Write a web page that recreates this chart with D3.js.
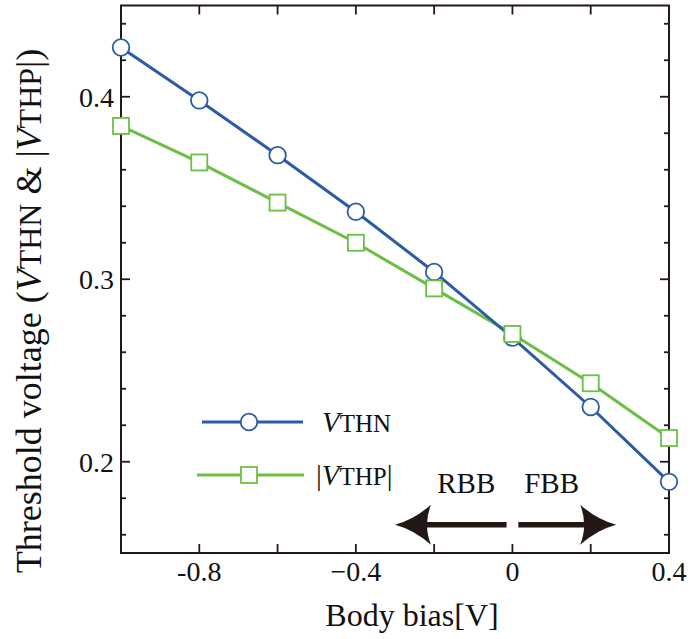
<!DOCTYPE html>
<html>
<head>
<meta charset="utf-8">
<script src="https://cdn.jsdelivr.net/npm/d3@7"></script>
<style>
  body { margin: 0; background: #fff; }
  svg { display: block; font-family: "Liberation Serif", "Times New Roman", serif; }
</style>
</head>
<body>
<div id="chart"></div>
<script>
// body bias [V]
const bias = [-1.0, -0.8, -0.6, -0.4, -0.2, 0.0, 0.2, 0.4];
// threshold voltages [V]
const vthn = [0.427, 0.398, 0.368, 0.337, 0.304, 0.268, 0.230, 0.189];
const vthp = [0.384, 0.364, 0.342, 0.320, 0.295, 0.270, 0.243, 0.213];

const xTickLabels = [[-0.8, '-0.8'], [-0.4, '\u22120.4'], [0, '0'], [0.4, '0.4']];
const yTickLabels = [[0.2, '0.2'], [0.3, '0.3'], [0.4, '0.4']];

// RBB / FBB annotation (x in volts, y in volts)
const arrowY = 0.1655;
const rbbArrow = [-0.015, -0.30];
const fbbArrow = [0.015, 0.265];
const arrowLabels = [['RBB', -0.118], ['FBB', 0.10]];
const arrowLabelY = 0.183;

const width = 692, height = 639;
const margin = {top: 5.5, right: 23, bottom: 86, left: 121};

const blue = '#2a5aa8';
const green = '#6cbf45';
const axisColor = '#231815';

const svg = d3.select('#chart').append('svg')
    .attr('width', width)
    .attr('height', height);

const x = d3.scaleLinear()
    .domain([-1.0, 0.4])
    .range([margin.left, width - margin.right]);

const y = d3.scaleLinear()
    .domain([0.15, 0.45])
    .range([height - margin.bottom, margin.top]);

// frame ticks
const xTicks = d3.range(-0.8, 0.41, 0.2).map(v => +v.toFixed(2)).filter(v => v < 0.39);
const yMinor = d3.range(0.16, 0.45, 0.02).map(v => +v.toFixed(2));

const g = svg.append('g');

// bottom / top ticks (inward)
xTicks.forEach(v => {
    g.append('line').attr('x1', x(v)).attr('x2', x(v))
        .attr('y1', y(0.15)).attr('y2', y(0.15) - 9)
        .attr('stroke', axisColor).attr('stroke-width', 1.8);
    g.append('line').attr('x1', x(v)).attr('x2', x(v))
        .attr('y1', y(0.45)).attr('y2', y(0.45) + 9)
        .attr('stroke', axisColor).attr('stroke-width', 1.8);
});

// left / right ticks
yMinor.forEach(v => {
    const major = Math.abs(v * 10 - Math.round(v * 10)) < 1e-6;
    const len = major ? 9 : 5;
    g.append('line').attr('x1', x(-1.0)).attr('x2', x(-1.0) + len)
        .attr('y1', y(v)).attr('y2', y(v))
        .attr('stroke', axisColor).attr('stroke-width', 1.8);
    g.append('line').attr('x1', x(0.4)).attr('x2', x(0.4) - len)
        .attr('y1', y(v)).attr('y2', y(v))
        .attr('stroke', axisColor).attr('stroke-width', 1.8);
});

// frame
g.append('rect')
    .attr('x', x(-1.0)).attr('y', y(0.45))
    .attr('width', x(0.4) - x(-1.0)).attr('height', y(0.15) - y(0.45))
    .attr('fill', 'none').attr('stroke', axisColor).attr('stroke-width', 2);

// tick labels
g.selectAll('.xlab').data(xTickLabels).join('text')
    .attr('class', 'xlab')
    .attr('x', d => x(d[0]))
    .attr('y', y(0.15) + 28)
    .attr('text-anchor', 'middle')
    .attr('font-size', 28)
    .attr('fill', '#111')
    .text(d => d[1]);

g.selectAll('.ylab').data(yTickLabels).join('text')
    .attr('class', 'ylab')
    .attr('x', x(-1.0) - 7)
    .attr('y', d => y(d[0]) + 10)
    .attr('text-anchor', 'end')
    .attr('font-size', 28)
    .attr('fill', '#111')
    .text(d => d[1]);

// axis titles
svg.append('text')
    .attr('x', 412).attr('y', 626)
    .attr('text-anchor', 'middle')
    .attr('font-size', 32)
    .attr('fill', '#111')
    .text('Body bias[V]');

const yTitle = svg.append('text')
    .attr('transform', 'translate(41,311) rotate(-90)')
    .attr('text-anchor', 'middle')
    .attr('font-size', 36)
    .attr('fill', '#111');
yTitle.append('tspan').text('Threshold voltage (');
yTitle.append('tspan').attr('font-style', 'italic').text('V');
yTitle.append('tspan').attr('font-size', 32).text('THN');
yTitle.append('tspan').text(' & |');
yTitle.append('tspan').attr('font-style', 'italic').text('V');
yTitle.append('tspan').attr('font-size', 32).text('THP');
yTitle.append('tspan').text('|)');

// series
const line = d3.line()
    .x(d => x(d[0]))
    .y(d => y(d[1]));

const nData = bias.map((b, i) => [b, vthn[i]]);
const pData = bias.map((b, i) => [b, vthp[i]]);

svg.append('path').datum(pData)
    .attr('d', line)
    .attr('fill', 'none').attr('stroke', green).attr('stroke-width', 3);

svg.append('path').datum(nData)
    .attr('d', line)
    .attr('fill', 'none').attr('stroke', blue).attr('stroke-width', 3);

svg.selectAll('.circ').data(nData).join('circle')
    .attr('class', 'circ')
    .attr('cx', d => x(d[0])).attr('cy', d => y(d[1]))
    .attr('r', 8.3)
    .attr('fill', '#fff').attr('stroke', blue).attr('stroke-width', 1.8);

svg.selectAll('.sq').data(pData).join('rect')
    .attr('class', 'sq')
    .attr('x', d => x(d[0]) - 8).attr('y', d => y(d[1]) - 8)
    .attr('width', 16).attr('height', 16)
    .attr('fill', '#fff').attr('stroke', green).attr('stroke-width', 1.8);

// legend
const leg = svg.append('g');
leg.append('line').attr('x1', 202).attr('x2', 303).attr('y1', 422).attr('y2', 422)
    .attr('stroke', blue).attr('stroke-width', 3);
leg.append('circle').attr('cx', 249).attr('cy', 422).attr('r', 8.3)
    .attr('fill', '#fff').attr('stroke', blue).attr('stroke-width', 1.8);
leg.append('line').attr('x1', 197).attr('x2', 304).attr('y1', 475).attr('y2', 475)
    .attr('stroke', green).attr('stroke-width', 3);
leg.append('rect').attr('x', 241).attr('y', 467).attr('width', 16).attr('height', 16)
    .attr('fill', '#fff').attr('stroke', green).attr('stroke-width', 1.8);

const l1 = leg.append('text').attr('x', 322).attr('y', 432).attr('font-size', 29).attr('fill', '#111');
l1.append('tspan').attr('font-style', 'italic').text('V');
l1.append('tspan').attr('font-size', 25).text('THN');
const l2 = leg.append('text').attr('x', 316).attr('y', 485).attr('font-size', 29).attr('fill', '#111');
l2.append('tspan').text('|');
l2.append('tspan').attr('font-style', 'italic').text('V');
l2.append('tspan').attr('font-size', 25).text('THP');
l2.append('tspan').text('|');

// RBB / FBB arrows
const arrowColor = '#231815';
function drawArrow(from, to) {
    const x0 = x(from), x1 = x(to), yy = y(arrowY);
    const dir = Math.sign(x1 - x0);
    const headLen = 36, half = 20, notch = 28;
    svg.append('line')
        .attr('x1', x0).attr('x2', x1 - dir * notch)
        .attr('y1', yy).attr('y2', yy)
        .attr('stroke', arrowColor).attr('stroke-width', 5.5);
    const p = d3.path();
    p.moveTo(x1, yy);
    p.quadraticCurveTo(x1 - dir * 19, yy - 5, x1 - dir * headLen, yy - half);
    p.quadraticCurveTo(x1 - dir * notch, yy, x1 - dir * headLen, yy + half);
    p.quadraticCurveTo(x1 - dir * 19, yy + 5, x1, yy);
    p.closePath();
    svg.append('path').attr('d', p.toString()).attr('fill', arrowColor);
}
drawArrow(rbbArrow[0], rbbArrow[1]);
drawArrow(fbbArrow[0], fbbArrow[1]);

svg.selectAll('.alab').data(arrowLabels).join('text')
    .attr('class', 'alab')
    .attr('x', d => x(d[1]))
    .attr('y', y(arrowLabelY))
    .attr('text-anchor', 'middle')
    .attr('font-size', 29)
    .attr('fill', '#111')
    .text(d => d[0]);
</script>
</body>
</html>
